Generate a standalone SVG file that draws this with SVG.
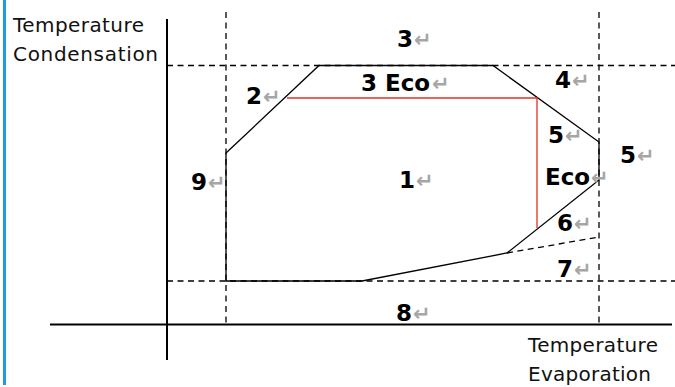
<svg xmlns="http://www.w3.org/2000/svg" width="675" height="387" viewBox="0 0 675 387">
<style>
.ax{stroke:#000;stroke-width:2;fill:none}
.ln{stroke:#000;stroke-width:1.3;fill:none}
.ds{stroke:#000;stroke-width:1.3;fill:none;stroke-dasharray:6,4.5}
.red{stroke:#e0302a;stroke-width:1.3;fill:none}
.t{font-family:"DejaVu Sans",sans-serif;font-size:20px;fill:#111}
.n{font-family:"DejaVu Sans",sans-serif;font-size:23px;font-weight:bold;fill:#000}
.r{font-family:"DejaVu Sans",sans-serif;font-size:21px;font-weight:bold;fill:#a6a6a6}
</style>
<rect x="3" y="0" width="3" height="385" fill="#1a9fd9"/>
<g id="axes">
<line class="ax" x1="167" y1="19" x2="167" y2="360"/>
<line class="ax" x1="50" y1="324.5" x2="672" y2="324.5"/>
</g>
<g id="connectors">
<line class="ds" x1="167" y1="65.5" x2="675" y2="65.5"/>
<line class="ds" x1="167" y1="281" x2="675" y2="281"/>
<line class="ds" x1="226" y1="12" x2="226" y2="324"/>
<line class="ds" x1="599" y1="12" x2="599" y2="324"/>
<polygon class="ln" points="226,153 319,65.5 493,65.5 599,142 599,180 507,253 362,281 226,281"/>
<line class="ds" x1="507" y1="253" x2="599" y2="237"/>
<path class="red" d="M287,98 H537 V228"/>
</g>
<g id="axis-labels">
<text class="t" x="13" y="32" textLength="131">Temperature</text>
<text class="t" x="13" y="61" textLength="145">Condensation</text>
<text class="t" x="528" y="352" textLength="130">Temperature</text>
<text class="t" x="528" y="381" textLength="123">Evaporation</text>
</g>
<g id="region-labels">
<g id="l3"><text class="n" x="397" y="47">3</text><text class="r" x="414" y="47">↵</text></g>
<g id="l3eco"><text class="n" x="361" y="91">3 Eco</text><text class="r" x="432" y="91">↵</text></g>
<g id="l2"><text class="n" x="246" y="104">2</text><text class="r" x="263" y="104">↵</text></g>
<g id="l4"><text class="n" x="555" y="88">4</text><text class="r" x="572" y="88">↵</text></g>
<g id="l5a"><text class="n" x="548" y="143">5</text><text class="r" x="565" y="143">↵</text></g>
<g id="l5b"><text class="n" x="620" y="163">5</text><text class="r" x="637" y="163">↵</text></g>
<g id="leco"><text class="n" x="545" y="185">Eco</text><text class="r" x="591" y="185">↵</text></g>
<g id="l1"><text class="n" x="399" y="188">1</text><text class="r" x="416" y="188">↵</text></g>
<g id="l9"><text class="n" x="191" y="190">9</text><text class="r" x="208" y="190">↵</text></g>
<g id="l6"><text class="n" x="557" y="231">6</text><text class="r" x="574" y="231">↵</text></g>
<g id="l7"><text class="n" x="557" y="277">7</text><text class="r" x="574" y="277">↵</text></g>
<g id="l8"><text class="n" x="396" y="321">8</text><text class="r" x="413" y="321">↵</text></g>
</g>
</svg>
